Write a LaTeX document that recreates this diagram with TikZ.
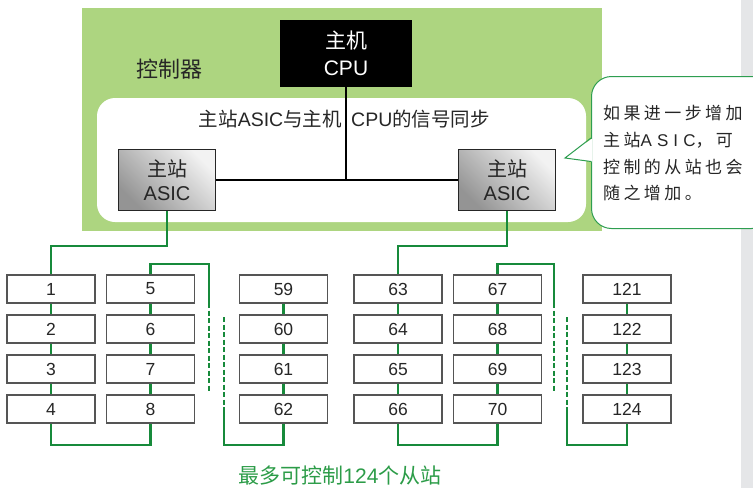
\documentclass[tikz,border=0pt]{standalone}
\usepackage{fontspec}
\setmainfont{Liberation Sans}
\newfontfamily\cjk{Noto Sans CJK SC}
\newfontfamily\cjksp[LetterSpace=20]{Noto Sans CJK SC}
\newfontfamily\latsp[LetterSpace=30]{Liberation Sans}
\newcommand\zh[1]{{\cjk #1}}
\newcommand\fs[2]{\fontsize{#1}{#2}\selectfont}
\definecolor{ctrlgreen}{HTML}{ADD580}
\definecolor{lgreen}{HTML}{178A3B}
\definecolor{textgreen}{HTML}{2C9C48}
\definecolor{cgreen}{HTML}{2E9E50}
\definecolor{boxgray}{HTML}{555555}
\definecolor{stripgray}{HTML}{E5E6E8}
\begin{document}
\begin{tikzpicture}[x=1pt,y=-1pt,
  slave/.style={draw=boxgray, line width=1.2pt, fill=white, minimum width=88pt, minimum height=28pt, inner sep=0pt, font=\fs{17.5}{20}, text=black!85},
  gline/.style={draw=lgreen, line width=2.3pt},
  dline/.style={draw=lgreen, line width=2.3pt, dash pattern=on 5pt off 2.5pt},
  bline/.style={draw=black, line width=1.5pt},
  asic/.style={draw=black!85, line width=1.2pt, minimum width=97pt, minimum height=61pt, inner sep=0pt,
    top color=white!95!black, bottom color=black!42, shading angle=-45, align=center, font=\fs{20}{24}, text=black!85},
  callline/.style={anchor=west, inner sep=0pt, font=\fs{17}{20}\cjksp, text=black!85}
]
\useasboundingbox (0,0) rectangle (753,488);
\clip (0,0) rectangle (753,488);
% background shapes
\fill[stripgray] (741,0) rectangle (753,488);
\fill[ctrlgreen] (82,8) rectangle (602,231);
\fill[white, rounded corners=18pt] (97,98) rectangle (586,222);
% controller
\node[font=\fs{22}{26}\cjk, text=black!85, inner sep=0pt] (ctrllabel) at (169,69) {控制器};
\node[fill=black, minimum width=132pt, minimum height=67pt, inner sep=0pt, text=white, align=center, font=\fs{21}{27}] (cpu) at (346,53.5) {\zh{主机}\\CPU};
\node[asic] (asicL) at (167,180) {\zh{主站}\\ASIC};
\node[asic] (asicR) at (507,180) {\zh{主站}\\ASIC};
\draw[bline] (asicL.east) -- (asicR.west);
\draw[bline] (cpu.south) -- (cpu.south |- asicL.east);
\node[anchor=east, inner sep=0pt, font=\fs{19.5}{22}, text=black!85] (syncL) at (342,119) {\zh{主站}ASIC\zh{与主机}};
\node[anchor=west, inner sep=0pt, font=\fs{19.5}{22}, text=black!85] (syncR) at (351,119) {CPU\zh{的信号同步}};
% callout
\node[draw=cgreen, fill=white, rounded corners=20pt, line width=1pt, minimum width=180pt, minimum height=152pt, anchor=north west, inner sep=0pt] (callout) at (591,76) {};
\coordinate (tip) at (565,158);
\fill[white] (592.2,138.5) -- (tip) -- (592.2,161.5) -- cycle;
\draw[cgreen, line width=1pt, line join=miter] (591,138) -- (tip) -- (591,161.5);
\node[callline] (call1) at (603,113) {如果进一步增加};
\node[callline] (call2) at (603,140) {主站{\latsp ASIC}，可};
\node[callline] (call3) at (603,167) {控制的从站也会};
\node[callline] (call4) at (603,193) {随之增加。};
% slaves
\foreach \x/\f in {51/1,150.5/5,283.5/59,398/63,497.5/67,627/121} {
  \foreach \r in {0,1,2,3} {
    \pgfmathtruncatemacro\lab{\f+\r}
    \node[slave] (s\lab) at (\x,289+40*\r) {\lab};
  }
}
\foreach \f in {1,5,59,63,67,121} {
  \foreach \r in {0,1,2} {
    \pgfmathtruncatemacro\a{\f+\r}
    \pgfmathtruncatemacro\b{\f+\r+1}
    \draw[gline] (s\a.south) -- (s\b.north);
  }
}
% left group
\draw[gline] (asicL.south) -- (asicL.south |- 0,246) -| (s1.north);
\draw[gline] (s4.south) -- (s4.south |- 0,445) -| (s8.south);
\coordinate (dA) at (209,303);
\coordinate (dB) at (209,392);
\coordinate (dC) at (224,317);
\coordinate (dD) at (224,408);
\draw[gline] (s5.north) -- (s5.north |- 0,264) -| (dA);
\draw[dline] (dA) -- (dB);
\draw[dline] (dC) -- (dD);
\draw[gline] (dD) -- (dD |- 0,445) -| (s62.south);
% right group
\draw[gline] (asicR.south) -- (asicR.south |- 0,246) -| (s63.north);
\draw[gline] (s66.south) -- (s66.south |- 0,445) -| (s70.south);
\coordinate (eA) at (554,303);
\coordinate (eB) at (554,392);
\coordinate (eC) at (567,317);
\coordinate (eD) at (567,408);
\draw[gline] (s67.north) -- (s67.north |- 0,264) -| (eA);
\draw[dline] (eA) -- (eB);
\draw[dline] (eC) -- (eD);
\draw[gline] (eD) -- (eD |- 0,445) -| (s124.south);
% total
\node[inner sep=0pt, font=\fs{21}{24}, text=textgreen] (total) at (340,476) {\zh{最多可控制}124\zh{个从站}};
\end{tikzpicture}
\end{document}
